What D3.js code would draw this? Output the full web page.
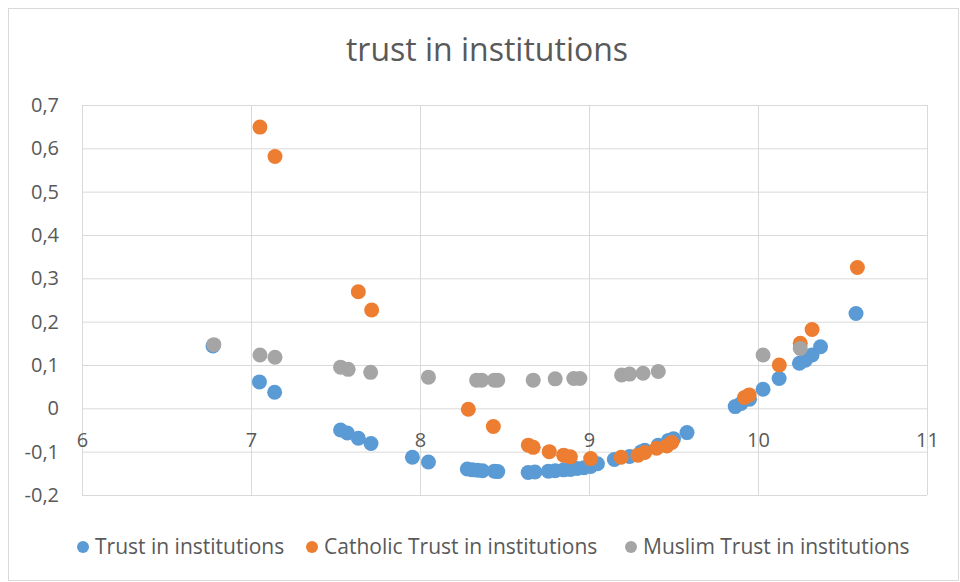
<!DOCTYPE html>
<html>
<head>
<meta charset="utf-8">
<script src="https://cdn.jsdelivr.net/npm/d3@7"></script>
<style>
  body { margin: 0; background: #fff; }
  svg { font-family: "Open Sans", Lato, sans-serif; }
</style>
</head>
<body>
<div id="chart"></div>
<script>
// series values: [x, y]
var trustAll = [
  [6.775, 0.144], [7.05, 0.061], [7.14, 0.037], [7.53, -0.050], [7.57, -0.057],
  [7.635, -0.069], [7.71, -0.081], [7.955, -0.113], [8.05, -0.124], [8.28, -0.140],
  [8.31, -0.142], [8.34, -0.143], [8.37, -0.144], [8.44, -0.145], [8.46, -0.146],
  [8.64, -0.148], [8.68, -0.147], [8.76, -0.145], [8.80, -0.144], [8.85, -0.142],
  [8.89, -0.141], [8.93, -0.139], [8.97, -0.137], [9.01, -0.134], [9.05, -0.128],
  [9.15, -0.118], [9.24, -0.111], [9.31, -0.100], [9.33, -0.097], [9.41, -0.085],
  [9.47, -0.074], [9.50, -0.070], [9.58, -0.056], [9.865, 0.004], [9.90, 0.011],
  [9.95, 0.021], [10.03, 0.044], [10.125, 0.069], [10.245, 0.104], [10.28, 0.111],
  [10.32, 0.123], [10.37, 0.142], [10.58, 0.219]
];
var trustCatholic = [
  [7.053, 0.649], [7.142, 0.581], [7.635, 0.269], [7.714, 0.227], [8.286, -0.002],
  [8.434, -0.042], [8.641, -0.085], [8.67, -0.090], [8.765, -0.100], [8.85, -0.108],
  [8.89, -0.112], [9.01, -0.116], [9.19, -0.113], [9.29, -0.108], [9.33, -0.102],
  [9.40, -0.092], [9.46, -0.087], [9.49, -0.079], [9.92, 0.025], [9.948, 0.031],
  [10.126, 0.100], [10.25, 0.150], [10.32, 0.182], [10.588, 0.325]
];
var trustMuslim = [
  [6.78, 0.147], [7.053, 0.123], [7.142, 0.118], [7.53, 0.095], [7.575, 0.090],
  [7.708, 0.083], [8.05, 0.072], [8.335, 0.065], [8.365, 0.065], [8.44, 0.065],
  [8.46, 0.065], [8.67, 0.065], [8.80, 0.068], [8.91, 0.069], [8.946, 0.069],
  [9.193, 0.077], [9.24, 0.079], [9.32, 0.081], [9.41, 0.085], [10.03, 0.123],
  [10.25, 0.138]
];
var seriesNames = ["Trust in institutions", "Catholic Trust in institutions", "Muslim Trust in institutions"];
var seriesColors = ["#5b9bd5", "#ed7d31", "#a5a5a5"];
var xTicks = [6, 7, 8, 9, 10, 11];
var yTicks = [-0.2, -0.1, 0, 0.1, 0.2, 0.3, 0.4, 0.5, 0.6, 0.7];

var w = 960, h = 582;
var plotLeft = 82, plotRight = 927, plotTop = 105, plotBottom = 495;

var svg = d3.select("#chart").append("svg").attr("width", w).attr("height", h);

svg.append("rect").attr("x", 8.5).attr("y", 8.5).attr("width", 950).attr("height", 572)
  .attr("fill", "#fff").attr("stroke", "#d9d9d9");

var x = d3.scaleLinear().domain([6, 11]).range([plotLeft, plotRight]);
var y = d3.scaleLinear().domain([-0.2, 0.7]).range([plotBottom, plotTop]);

var locale = d3.formatLocale({decimal: ",", thousands: ".", grouping: [3], currency: ["", ""], minus: "-"});
var fmt = locale.format(".1f");

// horizontal grid + y labels
var yAxis = svg.append("g").attr("transform", "translate(" + plotLeft + ",0)")
  .call(d3.axisLeft(y).tickValues(yTicks).tickSize(-(plotRight - plotLeft)).tickPadding(23)
    .tickFormat(function (d) { return Math.abs(d) < 1e-9 ? "0" : fmt(d); }));
yAxis.select(".domain").remove();
yAxis.selectAll("line").attr("stroke", "#d9d9d9");
yAxis.selectAll("text").attr("fill", "#595959").attr("font-size", 20)
  .attr("font-family", "'Open Sans', sans-serif");

// vertical grid
var xGrid = svg.append("g").attr("transform", "translate(0," + plotBottom + ")")
  .call(d3.axisBottom(x).tickValues(xTicks).tickSize(-(plotBottom - plotTop)).tickFormat(""));
xGrid.select(".domain").remove();
xGrid.selectAll("line").attr("stroke", "#d9d9d9");

// x labels hang under the zero line
var xAxis = svg.append("g").attr("transform", "translate(0," + y(0) + ")")
  .call(d3.axisBottom(x).tickValues(xTicks).tickSize(0).tickFormat(d3.format("d")));
xAxis.select(".domain").remove();
xAxis.selectAll("text").attr("y", 32).attr("dy", "0.35em")
  .attr("fill", "#595959").attr("font-size", 20).attr("font-family", "'Open Sans', sans-serif");

// points
[trustAll, trustCatholic, trustMuslim].forEach(function (data, i) {
  svg.append("g").selectAll("circle").data(data).enter().append("circle")
    .attr("cx", function (d) { return x(d[0]); })
    .attr("cy", function (d) { return y(d[1]); })
    .attr("r", 7.5)
    .attr("fill", seriesColors[i]);
});

// title
svg.append("text").attr("x", 487).attr("y", 50).attr("dy", "0.35em")
  .attr("text-anchor", "middle").attr("fill", "#595959").attr("font-size", 32)
  .text("trust in institutions");

// legend
var legendX = [83, 312, 631];
var legend = svg.append("g");
seriesNames.forEach(function (name, i) {
  legend.append("circle").attr("cx", legendX[i]).attr("cy", 547).attr("r", 6).attr("fill", seriesColors[i]);
  legend.append("text").attr("x", legendX[i] + 12).attr("y", 547).attr("dy", "0.35em")
    .attr("fill", "#595959").attr("font-size", 21).text(name);
});
</script>
</body>
</html>
